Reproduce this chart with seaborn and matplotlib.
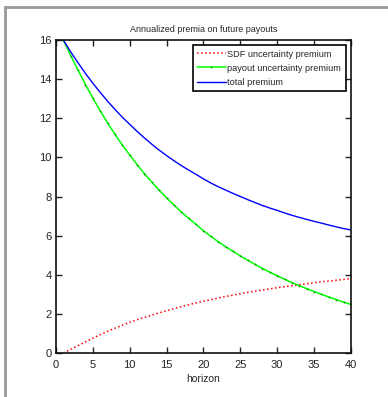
import numpy as np
import pandas as pd
import seaborn as sns
import matplotlib.pyplot as plt
from matplotlib.lines import Line2D

# --- data ---
horizon = list(range(1, 41))
sdf_premium = [0.00, 0.19, 0.38, 0.57, 0.76, 0.94, 1.11, 1.27, 1.42, 1.57,
               1.70, 1.82, 1.94, 2.05, 2.16, 2.27, 2.37, 2.47, 2.56, 2.65,
               2.73, 2.81, 2.89, 2.96, 3.03, 3.10, 3.16, 3.22, 3.28, 3.34,
               3.39, 3.44, 3.49, 3.54, 3.59, 3.64, 3.68, 3.72, 3.76, 3.81]
payout_premium = [16.00, 15.20, 14.45, 13.72, 13.03, 12.38, 11.76, 11.18, 10.63, 10.12,
                  9.63, 9.17, 8.73, 8.32, 7.93, 7.56, 7.21, 6.88, 6.57, 6.25,
                  5.96, 5.69, 5.44, 5.20, 4.97, 4.74, 4.53, 4.32, 4.13, 3.95,
                  3.77, 3.60, 3.44, 3.29, 3.14, 3.00, 2.86, 2.73, 2.60, 2.48]
x_ticks = [0, 5, 10, 15, 20, 25, 30, 35, 40]
y_ticks = [0, 2, 4, 6, 8, 10, 12, 14, 16]

df = pd.DataFrame({
    'horizon': horizon,
    'sdf': sdf_premium,
    'payout': payout_premium,
})
df['total'] = df['sdf'] + df['payout']

# --- style ---
sns.set_style('ticks')
plt.rcParams['font.family'] = ['Liberation Sans', 'DejaVu Sans']
plt.rcParams['axes.linewidth'] = 1.2
plt.rcParams['xtick.major.width'] = 1.0
plt.rcParams['ytick.major.width'] = 1.0

fig = plt.figure(figsize=(3.88, 3.97), dpi=100)
ax = fig.add_axes([0.1443, 0.1108, 0.7603, 0.7884])

sns.lineplot(data=df, x='horizon', y='sdf', ax=ax, color=(1, 0, 0),
             linestyle=':', linewidth=1.1, label='SDF uncertainty premium')
sns.lineplot(data=df, x='horizon', y='payout', ax=ax, color=(0, 1, 0),
             linewidth=1.1, marker='.', markersize=2.5, markeredgewidth=0,
             markerfacecolor=(0, 0.6, 0), label='payout uncertainty premium')
sns.lineplot(data=df, x='horizon', y='total', ax=ax, color=(0, 0, 1),
             linewidth=1.0, label='total premium')

ax.set_xlim(0, 40)
ax.set_ylim(0, 16)
ax.set_xticks(x_ticks)
ax.set_yticks(y_ticks)
ax.tick_params(direction='in', top=True, right=True, length=4, labelsize=8,
               colors='#222222')
ax.tick_params(axis='x', pad=5)
ax.tick_params(axis='y', pad=3)
for s in ax.spines.values():
    s.set_color('#111111')
ax.set_xlabel('horizon', fontsize=7.5, labelpad=3)
ax.set_ylabel('')
ax.set_title('Annualized premia on future payouts', fontsize=6.5, pad=6)

leg = ax.legend(loc='upper right', fontsize=6.6, frameon=True, fancybox=False,
                framealpha=1, edgecolor='black', borderaxespad=0.55,
                handlelength=3.1, handletextpad=0.2, labelspacing=0.55,
                borderpad=0.5)
leg.get_frame().set_linewidth(1.2)

# gray outer frame (top and left only)
fig.add_artist(Line2D([0.013, 0.013], [0.0, 0.982], color='#999999', linewidth=2,
                      transform=fig.transFigure))
fig.add_artist(Line2D([0.013, 1.0], [0.982, 0.982], color='#999999', linewidth=2,
                      transform=fig.transFigure))

fig.savefig('out.png', dpi=100)
